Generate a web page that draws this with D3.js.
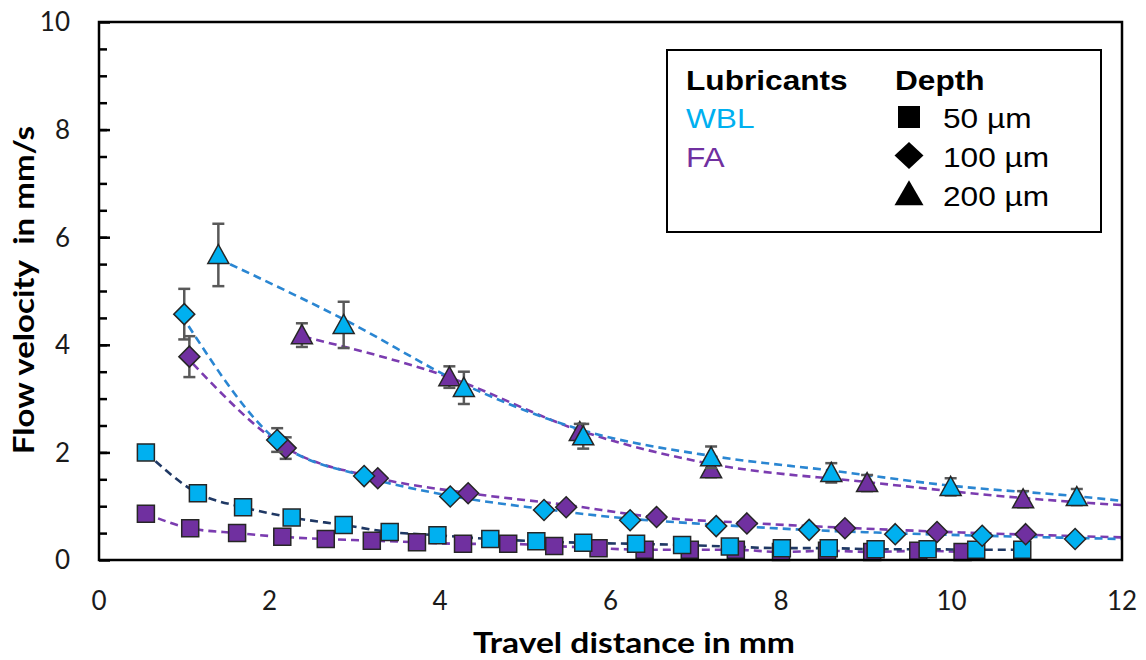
<!DOCTYPE html>
<html>
<head>
<meta charset="utf-8">
<script src="https://cdn.jsdelivr.net/npm/d3@7"></script>
<style>
  body { margin: 0; background: #fff; }
</style>
</head>
<body>
<div id="chart"></div>
<script>
// ---- data ----
const xTicks = [0, 2, 4, 6, 8, 10, 12];
const yTicks = [0, 2, 4, 6, 8, 10];

// 50 um (squares)
const wblSqX = [0.55, 1.16, 1.69, 2.26, 2.87, 3.41, 3.97, 4.59, 5.13, 5.68, 6.30, 6.84, 7.40, 8.01, 8.56, 9.11, 9.72, 10.29, 10.83];
const wblSqY = [2.00, 1.24, 0.98, 0.79, 0.65, 0.52, 0.46, 0.39, 0.35, 0.32, 0.30, 0.28, 0.25, 0.22, 0.22, 0.20, 0.20, 0.19, 0.19];
const wblSqErr = [0.10, 0, 0, 0, 0, 0, 0, 0, 0, 0, 0, 0, 0, 0, 0, 0, 0, 0, 0];
const faSqX = [0.55, 1.07, 1.62, 2.15, 2.66, 3.20, 3.73, 4.27, 4.80, 5.34, 5.86, 6.40, 6.93, 7.47, 8.00, 8.54, 9.07, 9.61, 10.13];
const faSqY = [0.86, 0.59, 0.50, 0.43, 0.39, 0.36, 0.33, 0.30, 0.30, 0.26, 0.22, 0.19, 0.19, 0.19, 0.15, 0.17, 0.15, 0.17, 0.15];

// 100 um (diamonds)
const wblDiaX = [1.00, 2.09, 3.11, 4.12, 5.22, 6.23, 7.24, 8.33, 9.34, 10.36, 11.45];
const wblDiaY = [4.57, 2.23, 1.56, 1.18, 0.93, 0.74, 0.63, 0.56, 0.48, 0.45, 0.39];
const wblDiaErr = [0.47, 0.22, 0, 0, 0, 0, 0, 0, 0, 0, 0];
const faDiaX = [1.06, 2.19, 3.27, 4.33, 5.48, 6.54, 7.60, 8.75, 9.83, 10.87];
const faDiaY = [3.78, 2.08, 1.52, 1.24, 0.98, 0.80, 0.68, 0.59, 0.52, 0.48];
const faDiaErr = [0.38, 0.20, 0, 0, 0, 0, 0, 0, 0, 0];

// 200 um (triangles)
const wblTriX = [1.40, 2.87, 4.28, 5.68, 7.18, 8.59, 9.99, 11.47];
const wblTriY = [5.67, 4.37, 3.20, 2.30, 1.91, 1.62, 1.36, 1.17];
const wblTriErr = [0.58, 0.43, 0.30, 0.23, 0.20, 0.18, 0.16, 0.15];
const faTriX = [2.38, 4.11, 5.64, 7.18, 9.01, 10.84];
const faTriY = [4.18, 3.40, 2.38, 1.69, 1.43, 1.13];
const faTriErr = [0.22, 0.20, 0.15, 0.15, 0.15, 0.15];

// dashed trend curves (they run on to x = 12)
const wblDiaLineX = [1.05, 2.1, 3.1, 4.1, 5.2, 6.2, 7.2, 8.3, 9.3, 10.4, 11.45, 12];
const wblDiaLineY = [4.35, 2.2, 1.56, 1.2, 0.95, 0.77, 0.66, 0.56, 0.5, 0.45, 0.41, 0.39];
const faDiaLineX = [1.1, 2.2, 3.25, 4.3, 5.5, 6.5, 7.6, 8.75, 9.8, 10.9, 12];
const faDiaLineY = [3.65, 2.08, 1.53, 1.25, 1.02, 0.8, 0.69, 0.6, 0.53, 0.47, 0.42];
const wblTriLineX = [1.4, 2.9, 4.3, 5.7, 7.2, 8.6, 10.0, 11.5, 12];
const wblTriLineY = [5.6, 4.45, 3.25, 2.4, 1.93, 1.66, 1.38, 1.18, 1.1];
const faTriLineX = [2.4, 4.1, 5.65, 7.2, 9.0, 10.85, 12];
const faTriLineY = [4.15, 3.4, 2.4, 1.78, 1.45, 1.15, 1.02];

const legendLubricants = ["WBL", "FA"];
const legendDepths = ["50 µm", "100 µm", "200 µm"];

// ---- setup ----
const W = 1146, H = 660;
const margin = { top: 22, right: 24, bottom: 100, left: 99 };

const cyan = "#00b0f0";
const purple = "#7030a0";
const blueLine = "#2a86d2";
const purpleLine = "#7b3cb0";
const navyLine = "#1f3864";

const svg = d3.select("#chart").append("svg")
    .attr("width", W)
    .attr("height", H)
    .style("background", "#fff");

const x = d3.scaleLinear().domain([0, 12]).range([margin.left, W - margin.right]);
const y = d3.scaleLinear().domain([0, 10]).range([H - margin.bottom, margin.top]);

const zip = (xs, ys, es) => xs.map((v, i) => ({ x: v, y: ys[i], e: es ? es[i] : 0 }));

// minor ticks (every 0.5) inside on the left axis, longer ones at the labels
svg.append("g")
    .attr("transform", "translate(" + x(0) + ",0)")
    .call(d3.axisRight(y).tickValues(d3.range(0.5, 10, 0.5)).tickSize(8).tickFormat(""))
    .call(g => g.select(".domain").remove())
    .selectAll("line").attr("stroke", "#000").attr("stroke-width", 2.5);

svg.append("g")
    .attr("transform", "translate(" + x(0) + ",0)")
    .call(d3.axisRight(y).tickValues(yTicks).tickSize(11).tickFormat(""))
    .call(g => g.select(".domain").remove())
    .selectAll("line").attr("stroke", "#000").attr("stroke-width", 2.5);

// tick labels
const tickFont = "Lato, 'Open Sans', sans-serif";
svg.append("g").selectAll("text")
    .data(yTicks)
    .join("text")
    .attr("x", 70)
    .attr("y", d => y(d))
    .attr("dy", "0.36em")
    .attr("text-anchor", "end")
    .style("font-family", tickFont)
    .style("font-size", "26px")
    .attr("fill", "#1a1a1a")
    .text(d => d);

svg.append("g").selectAll("text")
    .data(xTicks)
    .join("text")
    .attr("x", d => x(d))
    .attr("y", 610)
    .attr("text-anchor", "middle")
    .style("font-family", tickFont)
    .style("font-size", "26px")
    .attr("fill", "#1a1a1a")
    .text(d => d);

// axis titles (the picture is a little wider than tall, so stretch the text)
svg.append("text")
    .attr("transform", "translate(634,653) scale(1.2,1)")
    .attr("text-anchor", "middle")
    .style("font-family", "Lato, sans-serif")
    .style("font-weight", "bold")
    .style("font-size", "28px")
    .text("Travel distance in mm");

svg.append("text")
    .attr("transform", "translate(34,290) rotate(-90) scale(1.18,1)")
    .attr("text-anchor", "middle")
    .style("font-family", "Lato, sans-serif")
    .style("font-weight", "bold")
    .style("font-size", "28px")
    .style("white-space", "pre")
    .text("Flow velocity  in mm/s");

// ---- marker shapes ----
function squarePath(s) { return "M" + (-s / 2) + "," + (-s / 2) + "h" + s + "v" + s + "h" + (-s) + "Z"; }
function diamondPath(w, h) { return "M0," + (-h / 2) + "L" + (w / 2) + ",0L0," + (h / 2) + "L" + (-w / 2) + ",0Z"; }
function trianglePath(w, h) { return "M0," + (-h * 0.55) + "L" + (w / 2) + "," + (h * 0.45) + "L" + (-w / 2) + "," + (h * 0.45) + "Z"; }

const shapes = {
    square: squarePath(17),
    diamond: diamondPath(21, 21),
    triangle: trianglePath(21, 19)
};

const line = d3.line()
    .x(d => x(d.x))
    .y(d => y(d.y))
    .curve(d3.curveMonotoneX);

function drawLine(pts, color) {
    svg.append("path")
        .datum(pts)
        .attr("d", line)
        .attr("fill", "none")
        .attr("stroke", color)
        .attr("stroke-width", 2.6)
        .attr("stroke-dasharray", "8,5");
}

function drawMarkers(pts, shape, fill) {
    const g = svg.append("g");
    const withErr = pts.filter(d => d.e > 0);
    g.selectAll("line.eb")
        .data(withErr)
        .join("line")
        .attr("x1", d => x(d.x)).attr("x2", d => x(d.x))
        .attr("y1", d => y(d.y + d.e)).attr("y2", d => y(d.y - d.e))
        .attr("stroke", "#595959").attr("stroke-width", 2.5);
    [1, -1].forEach(function(sgn) {
        g.selectAll("line.cap" + sgn)
            .data(withErr)
            .join("line")
            .attr("x1", d => x(d.x) - 6).attr("x2", d => x(d.x) + 6)
            .attr("y1", d => y(d.y + sgn * d.e)).attr("y2", d => y(d.y + sgn * d.e))
            .attr("stroke", "#595959").attr("stroke-width", 2.5);
    });
    g.selectAll("path")
        .data(pts)
        .join("path")
        .attr("d", shapes[shape])
        .attr("transform", d => "translate(" + x(d.x) + "," + y(d.y) + ")")
        .attr("fill", fill)
        .attr("stroke", "#262626")
        .attr("stroke-width", 1.5);
}

// lines
drawLine(zip(faSqX, faSqY), purpleLine);
drawLine(zip(wblSqX, wblSqY), navyLine);
drawLine(zip(faDiaLineX, faDiaLineY), purpleLine);
drawLine(zip(wblDiaLineX, wblDiaLineY), blueLine);
drawLine(zip(faTriLineX, faTriLineY), purpleLine);
drawLine(zip(wblTriLineX, wblTriLineY), blueLine);

// markers
drawMarkers(zip(faSqX, faSqY), "square", purple);
drawMarkers(zip(wblSqX, wblSqY, wblSqErr), "square", cyan);
drawMarkers(zip(faDiaX, faDiaY, faDiaErr), "diamond", purple);
drawMarkers(zip(wblDiaX, wblDiaY, wblDiaErr), "diamond", cyan);
drawMarkers(zip(faTriX, faTriY, faTriErr), "triangle", purple);
drawMarkers(zip(wblTriX, wblTriY, wblTriErr), "triangle", cyan);

// plot frame
svg.append("rect")
    .attr("x", x(0))
    .attr("y", y(10))
    .attr("width", x(12) - x(0))
    .attr("height", y(0) - y(10))
    .attr("fill", "none")
    .attr("stroke", "#000")
    .attr("stroke-width", 2.5);

// ---- legend ----
const legend = svg.append("g");
legend.append("rect")
    .attr("x", 667).attr("y", 50)
    .attr("width", 434).attr("height", 182)
    .attr("fill", "#fff")
    .attr("stroke", "#000")
    .attr("stroke-width", 2);

const legFont = "'Liberation Sans', Arial, sans-serif";
function legText(tx, ty, txt, color, bold) {
    legend.append("text")
        .attr("transform", "translate(" + tx + "," + ty + ") scale(1.13,1)")
        .attr("fill", color)
        .style("font-family", legFont)
        .style("font-size", "28px")
        .style("font-weight", bold ? "bold" : "normal")
        .text(txt);
}

legText(686, 90, "Lubricants", "#000", true);
legText(895, 90, "Depth", "#000", true);
legendLubricants.forEach((d, i) => legText(686, 128 + i * 39, d, i === 0 ? cyan : purple, false));
legendDepths.forEach((d, i) => legText(943, 128 + i * 39, d, "#000", false));

const depthShapes = [squarePath(22), diamondPath(29, 27), trianglePath(29, 25)];
legend.selectAll("path.dep")
    .data(legendDepths)
    .join("path")
    .attr("d", (d, i) => depthShapes[i])
    .attr("transform", (d, i) => "translate(909," + (117 + i * 38.5) + ")")
    .attr("fill", "#000");
</script>
</body>
</html>
